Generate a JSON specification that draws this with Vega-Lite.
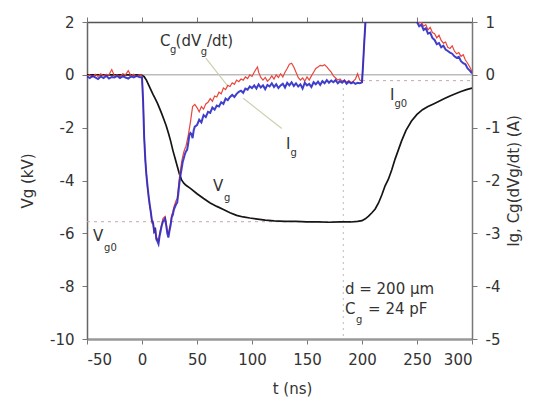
{
  "$schema": "https://vega.github.io/schema/vega-lite/v6.json",
  "width": 385,
  "height": 317,
  "autosize": {"type": "none"},
  "padding": {"left": 87, "top": 22, "right": 79, "bottom": 68},
  "background": "white",
  "config": {
    "view": {"stroke": null},
    "font": "DejaVu Sans",
    "axis": {"labelFont": "DejaVu Sans", "titleFont": "DejaVu Sans", "labelFontSize": 15, "titleFontSize": 15, "titleFontWeight": "normal", "labelColor": "#333", "titleColor": "#333", "grid": false, "tickColor": "#777", "domainColor": "#777", "tickSize": 5, "labelPadding": 8}
  },
  "datasets": {
    "vg": [
      {"t":-50,"v":0.0},{"t":-40,"v":0.0},{"t":-30,"v":0.0},{"t":-20,"v":0.0},{"t":-10,"v":0.0},{"t":-5,"v":0.0},{"t":0,"v":-0.02},{"t":2,"v":-0.07},{"t":4,"v":-0.2},{"t":6,"v":-0.38},{"t":8,"v":-0.56},{"t":10,"v":-0.74},{"t":12,"v":-0.9},{"t":14,"v":-1.07},{"t":16,"v":-1.27},{"t":18,"v":-1.48},{"t":20,"v":-1.7},{"t":22,"v":-1.93},{"t":24,"v":-2.2},{"t":26,"v":-2.5},{"t":28,"v":-2.85},{"t":30,"v":-3.15},{"t":32,"v":-3.45},{"t":34,"v":-3.75},{"t":36,"v":-3.98},{"t":38,"v":-4.1},{"t":40,"v":-4.18},{"t":44,"v":-4.3},{"t":50,"v":-4.5},{"t":56,"v":-4.68},{"t":62,"v":-4.85},{"t":68,"v":-4.98},{"t":74,"v":-5.1},{"t":80,"v":-5.22},{"t":86,"v":-5.32},{"t":92,"v":-5.38},{"t":98,"v":-5.42},{"t":105,"v":-5.46},{"t":112,"v":-5.5},{"t":120,"v":-5.53},{"t":130,"v":-5.55},{"t":140,"v":-5.55},{"t":150,"v":-5.57},{"t":160,"v":-5.57},{"t":170,"v":-5.58},{"t":180,"v":-5.57},{"t":190,"v":-5.57},{"t":196,"v":-5.55},{"t":200,"v":-5.52},{"t":203,"v":-5.45},{"t":206,"v":-5.35},{"t":209,"v":-5.22},{"t":212,"v":-5.08},{"t":215,"v":-4.85},{"t":218,"v":-4.55},{"t":221,"v":-4.2},{"t":224,"v":-3.95},{"t":227,"v":-3.6},{"t":230,"v":-3.2},{"t":233,"v":-2.85},{"t":236,"v":-2.5},{"t":240,"v":-2.1},{"t":245,"v":-1.75},{"t":250,"v":-1.5},{"t":255,"v":-1.32},{"t":260,"v":-1.2},{"t":265,"v":-1.1},{"t":270,"v":-1.0},{"t":275,"v":-0.9},{"t":280,"v":-0.8},{"t":286,"v":-0.7},{"t":290,"v":-0.63},{"t":295,"v":-0.56},{"t":300,"v":-0.5}
    ],
    "ig": [
      {"t":-50,"a":-0.03},{"t":-47.5,"a":-0.06},{"t":-45,"a":-0.02},{"t":-42.5,"a":-0.05},{"t":-40,"a":-0.08},{"t":-37.5,"a":-0.03},{"t":-35,"a":-0.06},{"t":-32.5,"a":-0.02},{"t":-30,"a":-0.07},{"t":-27.5,"a":-0.04},{"t":-25,"a":-0.05},{"t":-22.5,"a":-0.02},{"t":-20,"a":-0.06},{"t":-17.5,"a":-0.03},{"t":-15,"a":-0.05},{"t":-12.5,"a":-0.07},{"t":-10,"a":-0.03},{"t":-7.5,"a":-0.05},{"t":-5,"a":-0.02},{"t":-2.5,"a":-0.04},{"t":0,"a":-0.05},{"t":1,"a":-0.5},{"t":2,"a":-1.2},{"t":3,"a":-1.6},{"t":4,"a":-1.9},{"t":5,"a":-2.1},{"t":6,"a":-2.3},{"t":7,"a":-2.45},{"t":8,"a":-2.6},{"t":9,"a":-2.75},{"t":10,"a":-2.8},{"t":11,"a":-2.95},{"t":12,"a":-2.9},{"t":13,"a":-3.1},{"t":14,"a":-3.15},{"t":15,"a":-3.2},{"t":16,"a":-3.05},{"t":17,"a":-2.95},{"t":18,"a":-2.85},{"t":19,"a":-2.78},{"t":20,"a":-2.75},{"t":21,"a":-2.72},{"t":22,"a":-2.85},{"t":23,"a":-3.0},{"t":24,"a":-3.08},{"t":25,"a":-2.95},{"t":26,"a":-2.85},{"t":27,"a":-2.7},{"t":28,"a":-2.65},{"t":29,"a":-2.55},{"t":30,"a":-2.5},{"t":31,"a":-2.45},{"t":32,"a":-2.42},{"t":33,"a":-2.25},{"t":34,"a":-2.05},{"t":35,"a":-1.9},{"t":36,"a":-1.78},{"t":37,"a":-1.65},{"t":38,"a":-1.58},{"t":39,"a":-1.5},{"t":40,"a":-1.45},{"t":41,"a":-1.42},{"t":42,"a":-1.3},{"t":43,"a":-1.15},{"t":44,"a":-1.1},{"t":45,"a":-1.12},{"t":46,"a":-1.2},{"t":47,"a":-1.05},{"t":48,"a":-0.98},{"t":50,"a":-0.95},{"t":52,"a":-0.85},{"t":54,"a":-0.9},{"t":56,"a":-0.76},{"t":58,"a":-0.8},{"t":60,"a":-0.7},{"t":62,"a":-0.72},{"t":64,"a":-0.62},{"t":66,"a":-0.66},{"t":68,"a":-0.58},{"t":70,"a":-0.6},{"t":72,"a":-0.52},{"t":74,"a":-0.55},{"t":76,"a":-0.45},{"t":78,"a":-0.48},{"t":80,"a":-0.42},{"t":82,"a":-0.38},{"t":84,"a":-0.42},{"t":86,"a":-0.36},{"t":88,"a":-0.32},{"t":90,"a":-0.3},{"t":92,"a":-0.34},{"t":94,"a":-0.26},{"t":96,"a":-0.28},{"t":98,"a":-0.22},{"t":100,"a":-0.25},{"t":102,"a":-0.2},{"t":104,"a":-0.26},{"t":106,"a":-0.18},{"t":108,"a":-0.24},{"t":110,"a":-0.2},{"t":112,"a":-0.27},{"t":114,"a":-0.19},{"t":116,"a":-0.22},{"t":118,"a":-0.16},{"t":120,"a":-0.23},{"t":122,"a":-0.18},{"t":124,"a":-0.25},{"t":126,"a":-0.2},{"t":128,"a":-0.17},{"t":130,"a":-0.24},{"t":132,"a":-0.15},{"t":134,"a":-0.2},{"t":136,"a":-0.14},{"t":138,"a":-0.21},{"t":140,"a":-0.16},{"t":142,"a":-0.22},{"t":144,"a":-0.18},{"t":146,"a":-0.26},{"t":148,"a":-0.15},{"t":150,"a":-0.2},{"t":152,"a":-0.17},{"t":154,"a":-0.23},{"t":156,"a":-0.14},{"t":158,"a":-0.18},{"t":160,"a":-0.13},{"t":162,"a":-0.19},{"t":164,"a":-0.12},{"t":166,"a":-0.16},{"t":168,"a":-0.1},{"t":170,"a":-0.15},{"t":172,"a":-0.11},{"t":174,"a":-0.14},{"t":176,"a":-0.1},{"t":178,"a":-0.16},{"t":180,"a":-0.12},{"t":182,"a":-0.15},{"t":184,"a":-0.11},{"t":186,"a":-0.17},{"t":188,"a":-0.13},{"t":190,"a":-0.16},{"t":192,"a":-0.14},{"t":194,"a":-0.17},{"t":196,"a":-0.15},{"t":198,"a":-0.16},{"t":200,"a":-0.14},{"t":201,"a":0.2},{"t":202,"a":0.6},{"t":203,"a":0.95},{"t":204,"a":1.3},{"t":206,"a":1.8},{"t":215,"a":2.5},{"t":230,"a":2.3},{"t":245,"a":1.3},{"t":248,"a":1.08},{"t":250,"a":1.0},{"t":252,"a":0.92},{"t":254,"a":0.95},{"t":256,"a":0.85},{"t":258,"a":0.88},{"t":260,"a":0.78},{"t":262,"a":0.8},{"t":264,"a":0.7},{"t":266,"a":0.66},{"t":268,"a":0.58},{"t":270,"a":0.6},{"t":272,"a":0.52},{"t":274,"a":0.55},{"t":276,"a":0.48},{"t":278,"a":0.45},{"t":280,"a":0.42},{"t":282,"a":0.4},{"t":284,"a":0.35},{"t":286,"a":0.32},{"t":288,"a":0.34},{"t":290,"a":0.26},{"t":292,"a":0.22},{"t":294,"a":0.2},{"t":296,"a":0.12},{"t":298,"a":0.08},{"t":300,"a":0.03}
    ],
    "cg": [
      {"t":-50,"a":-0.02},{"t":-47.5,"a":0.0},{"t":-45,"a":-0.04},{"t":-42.5,"a":0.01},{"t":-40,"a":-0.03},{"t":-37.5,"a":0.02},{"t":-35,"a":-0.02},{"t":-32.5,"a":0.01},{"t":-30,"a":0.0},{"t":-27.5,"a":0.1},{"t":-25,"a":-0.02},{"t":-22.5,"a":0.0},{"t":-20,"a":-0.04},{"t":-17.5,"a":0.02},{"t":-15,"a":0.0},{"t":-12.5,"a":0.08},{"t":-10,"a":-0.02},{"t":-7.5,"a":0.01},{"t":-5,"a":-0.03},{"t":-2.5,"a":0.0},{"t":0,"a":-0.02},{"t":1,"a":-0.45},{"t":2,"a":-1.15},{"t":3,"a":-1.62},{"t":4,"a":-1.88},{"t":5,"a":-2.14},{"t":6,"a":-2.28},{"t":7,"a":-2.5},{"t":8,"a":-2.58},{"t":9,"a":-2.8},{"t":10,"a":-2.78},{"t":11,"a":-3.0},{"t":12,"a":-2.88},{"t":13,"a":-3.12},{"t":14,"a":-3.1},{"t":15,"a":-3.15},{"t":16,"a":-3.0},{"t":17,"a":-2.9},{"t":18,"a":-2.82},{"t":19,"a":-2.72},{"t":20,"a":-2.7},{"t":21,"a":-2.68},{"t":22,"a":-2.8},{"t":23,"a":-2.95},{"t":24,"a":-3.02},{"t":25,"a":-2.9},{"t":26,"a":-2.8},{"t":27,"a":-2.65},{"t":28,"a":-2.6},{"t":29,"a":-2.5},{"t":30,"a":-2.44},{"t":31,"a":-2.38},{"t":32,"a":-2.34},{"t":33,"a":-2.15},{"t":34,"a":-1.95},{"t":35,"a":-1.8},{"t":36,"a":-1.65},{"t":37,"a":-1.55},{"t":38,"a":-1.46},{"t":39,"a":-1.4},{"t":40,"a":-1.35},{"t":42,"a":-1.15},{"t":44,"a":-0.9},{"t":46,"a":-0.6},{"t":48,"a":-0.56},{"t":50,"a":-0.62},{"t":52,"a":-0.7},{"t":54,"a":-0.6},{"t":56,"a":-0.65},{"t":58,"a":-0.55},{"t":60,"a":-0.52},{"t":62,"a":-0.45},{"t":64,"a":-0.5},{"t":66,"a":-0.4},{"t":68,"a":-0.42},{"t":70,"a":-0.33},{"t":72,"a":-0.36},{"t":74,"a":-0.25},{"t":76,"a":-0.28},{"t":78,"a":-0.2},{"t":80,"a":-0.22},{"t":82,"a":-0.15},{"t":84,"a":-0.18},{"t":86,"a":-0.1},{"t":88,"a":-0.13},{"t":90,"a":-0.08},{"t":92,"a":-0.1},{"t":94,"a":-0.04},{"t":96,"a":-0.07},{"t":98,"a":0.0},{"t":100,"a":-0.03},{"t":102,"a":0.05},{"t":104,"a":0.12},{"t":105,"a":0.15},{"t":106,"a":0.05},{"t":108,"a":-0.05},{"t":110,"a":-0.1},{"t":112,"a":-0.05},{"t":114,"a":-0.12},{"t":116,"a":-0.08},{"t":118,"a":-0.02},{"t":120,"a":-0.08},{"t":122,"a":0.0},{"t":124,"a":-0.05},{"t":126,"a":0.02},{"t":128,"a":-0.04},{"t":130,"a":0.05},{"t":132,"a":0.12},{"t":134,"a":0.2},{"t":136,"a":0.22},{"t":138,"a":0.15},{"t":140,"a":0.05},{"t":142,"a":-0.05},{"t":144,"a":-0.1},{"t":146,"a":-0.06},{"t":148,"a":-0.12},{"t":150,"a":-0.04},{"t":152,"a":-0.1},{"t":154,"a":-0.02},{"t":156,"a":0.05},{"t":158,"a":0.12},{"t":160,"a":0.15},{"t":162,"a":0.18},{"t":164,"a":0.17},{"t":166,"a":0.19},{"t":168,"a":0.15},{"t":170,"a":0.1},{"t":172,"a":0.05},{"t":174,"a":-0.02},{"t":176,"a":-0.06},{"t":178,"a":-0.1},{"t":180,"a":-0.08},{"t":182,"a":-0.12},{"t":184,"a":-0.1},{"t":186,"a":-0.14},{"t":188,"a":-0.11},{"t":190,"a":-0.15},{"t":192,"a":-0.12},{"t":194,"a":-0.08},{"t":196,"a":0.02},{"t":198,"a":-0.1},{"t":200,"a":-0.12},{"t":201,"a":0.2},{"t":202,"a":0.6},{"t":203,"a":0.95},{"t":204,"a":1.3},{"t":206,"a":1.8},{"t":215,"a":2.5},{"t":230,"a":2.3},{"t":245,"a":1.4},{"t":248,"a":1.15},{"t":250,"a":1.05},{"t":252,"a":0.98},{"t":254,"a":1.0},{"t":256,"a":0.92},{"t":258,"a":0.95},{"t":260,"a":0.85},{"t":262,"a":0.9},{"t":264,"a":0.8},{"t":266,"a":0.78},{"t":268,"a":0.7},{"t":270,"a":0.75},{"t":272,"a":0.65},{"t":274,"a":0.6},{"t":276,"a":0.62},{"t":278,"a":0.52},{"t":280,"a":0.5},{"t":282,"a":0.55},{"t":284,"a":0.45},{"t":286,"a":0.4},{"t":288,"a":0.42},{"t":290,"a":0.35},{"t":292,"a":0.38},{"t":294,"a":0.28},{"t":296,"a":0.22},{"t":298,"a":0.15},{"t":300,"a":0.06}
    ],
    "hrules": [{"v":0}],
    "segs": [
      {"t":-50,"t2":183,"v":-5.56,"v2":-5.56,"k":"vg0"},
      {"t":183,"t2":183,"v":-0.5,"v2":-10,"k":"vert"},
      {"t":200,"t2":300,"v":-0.22,"v2":-0.22,"k":"ig0"}
    ],
    "pointers": [
      {"t":58,"v":0.63,"t2":78,"v2":-0.43},
      {"t":92,"v":-0.89,"t2":127,"v2":-2.03}
    ],
    "labels": [
      {"t":16.4,"v":1.09,"s":"C"},{"t":30.5,"v":1.09,"s":"(dV"},{"t":59,"v":1.09,"s":"/dt)"},
      {"t":130.9,"v":-2.79,"s":"I"},{"t":225.5,"v":-0.96,"s":"I"},{"t":64.5,"v":-4.38,"s":"V"},{"t":-44.5,"v":-6.28,"s":"V"},
      {"t":184.5,"v":-8.29,"s":"d = 200 μm"},{"t":184.5,"v":-9.05,"s":"C"},{"t":205.5,"v":-9.05,"s":"= 24 pF"}
    ],
    "subs": [
      {"t":25.5,"v":0.82,"s":"g"},{"t":53.5,"v":0.75,"s":"g"},{"t":135,"v":-3.09,"s":"g"},{"t":229.5,"v":-1.23,"s":"g0"},
      {"t":74.5,"v":-4.76,"s":"g"},{"t":-34.5,"v":-6.66,"s":"g0"},{"t":194.5,"v":-9.39,"s":"g"}
    ]
  },
  "layer": [
    {
      "layer": [
        {
          "data": {"name": "hrules"},
          "mark": {"type": "rule", "color": "#9a9a9a", "strokeWidth": 1},
          "encoding": {
            "x": {"datum": -50, "type": "quantitative", "scale": {"domain": [-50, 300], "nice": false, "zero": false}, "axis": {"orient": "bottom", "values": [-50, 0, 50, 100, 150, 200, 250, 300], "labelExpr": "replace(datum.label, '−', '-')", "title": "t (ns)", "titlePadding": 14, "titleX": 205, "domainColor": "#999", "domainWidth": 2.5}},
            "x2": {"datum": 300},
            "y": {"field": "v", "type": "quantitative", "scale": {"domain": [-10, 2], "nice": false, "zero": false}, "axis": {"orient": "left", "values": [-10, -8, -6, -4, -2, 0, 2], "labelExpr": "replace(datum.label, '−', '-')", "title": "Vg (kV)", "titlePadding": 14, "domainColor": "#666", "domainWidth": 1.5}}
          }
        },
        {
          "data": {"name": "segs"},
          "transform": [{"filter": "datum.k != 'vert'"}],
          "mark": {"type": "rule", "color": "#c4a8a8", "strokeWidth": 1, "strokeDash": [3, 4]},
          "encoding": {
            "x": {"field": "t", "type": "quantitative"},
            "x2": {"field": "t2"},
            "y": {"field": "v", "type": "quantitative"},
            "y2": {"field": "v2"}
          }
        },
        {
          "data": {"name": "segs"},
          "transform": [{"filter": "datum.k == 'vert'"}],
          "mark": {"type": "rule", "color": "#bbbbbb", "strokeWidth": 1, "strokeDash": [2, 4]},
          "encoding": {
            "x": {"field": "t", "type": "quantitative"},
            "x2": {"field": "t2"},
            "y": {"field": "v", "type": "quantitative"},
            "y2": {"field": "v2"}
          }
        },
        {
          "data": {"name": "pointers"},
          "mark": {"type": "rule", "color": "#cfcfae", "strokeWidth": 1.2},
          "encoding": {
            "x": {"field": "t", "type": "quantitative"},
            "x2": {"field": "t2"},
            "y": {"field": "v", "type": "quantitative"},
            "y2": {"field": "v2"}
          }
        },
        {
          "data": {"name": "vg"},
          "mark": {"type": "line", "color": "#151515", "strokeWidth": 1.7, "clip": true},
          "encoding": {
            "x": {"field": "t", "type": "quantitative"},
            "y": {"field": "v", "type": "quantitative"}
          }
        },
        {
          "data": {"name": "labels"},
          "mark": {"type": "text", "align": "left", "baseline": "alphabetic", "fontSize": 15, "color": "#333", "font": "DejaVu Sans"},
          "encoding": {
            "x": {"field": "t", "type": "quantitative"},
            "y": {"field": "v", "type": "quantitative"},
            "text": {"field": "s"}
          }
        },
        {
          "data": {"name": "subs"},
          "mark": {"type": "text", "align": "left", "baseline": "alphabetic", "fontSize": 10, "color": "#333", "font": "DejaVu Sans"},
          "encoding": {
            "x": {"field": "t", "type": "quantitative"},
            "y": {"field": "v", "type": "quantitative"},
            "text": {"field": "s"}
          }
        }
      ]
    },
    {
      "layer": [
        {
          "data": {"name": "cg"},
          "mark": {"type": "line", "color": "#e8463c", "strokeWidth": 1.2, "clip": true},
          "encoding": {
            "x": {"field": "t", "type": "quantitative", "axis": {"orient": "top", "values": [-50, 0, 50, 100, 150, 200, 250, 300], "labels": false, "title": null, "domainColor": "#555", "domainWidth": 1.5}},
            "y": {"field": "a", "type": "quantitative", "scale": {"domain": [-5, 1], "nice": false, "zero": false}, "axis": {"orient": "right", "values": [-5, -4, -3, -2, -1, 0, 1], "labelExpr": "replace(datum.label, '−', '-')", "title": "Ig, Cg(dVg/dt) (A)", "titleAngle": 270, "titlePadding": 22, "domainColor": "#777", "domainWidth": 1.5}}
          }
        },
        {
          "data": {"name": "ig"},
          "mark": {"type": "line", "color": "#2a2ac4", "strokeWidth": 2, "opacity": 0.9, "clip": true},
          "encoding": {
            "x": {"field": "t", "type": "quantitative"},
            "y": {"field": "a", "type": "quantitative"}
          }
        }
      ]
    }
  ],
  "resolve": {"scale": {"y": "independent"}, "axis": {"x": "independent"}}
}
